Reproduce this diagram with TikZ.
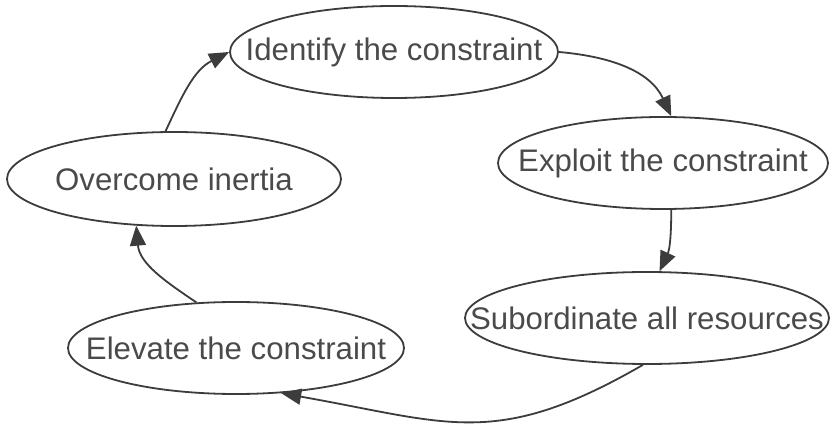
\documentclass[tikz,border=0pt]{standalone}
\usepackage{fontspec}
\setmainfont{Liberation Sans}
\usetikzlibrary{arrows.meta,shapes.geometric}
\definecolor{ink}{HTML}{3C3C3C}
\definecolor{graytext}{HTML}{4A4A4A}
\tikzset{stage/.style={ellipse,draw=ink,line width=0.9pt,inner xsep=-40pt,inner ysep=0pt,
  minimum height=46pt,text=graytext,font=\fontsize{15.6}{18}\selectfont},
  cyclearrow/.style={-{Triangle[length=10pt,width=8pt]},line width=0.9pt,draw=ink}}
\begin{document}
\begin{tikzpicture}[x=0.5pt,y=0.5pt]
\useasboundingbox (0,0) rectangle (830,428);
\node[stage,minimum width=164pt] (identify) at (394,376) {Identify the constraint};
\node[stage,minimum width=165pt] (exploit) at (663,265) {Exploit the constraint};
\node[stage,minimum width=182pt] (subord) at (647,110) {Subordinate all resources};
\node[stage,minimum width=168pt] (elevate) at (236,80) {Elevate the constraint};
\node[stage,minimum width=167pt,minimum height=47pt] (overcome) at (174,249) {Overcome inertia};
\draw[cyclearrow] (overcome.100) to[out=65,in=207] (identify.west);
\draw[cyclearrow] (identify.east) to[out=-5,in=115] (exploit.80);
\draw[cyclearrow] (exploit.-80) to[out=-90,in=65] (subord.75);
\draw[cyclearrow] (subord.-95) to[out=-150,in=-10,looseness=1.2] (elevate.-45);
\draw[cyclearrow] (elevate.131) to[out=146,in=-85] (overcome.231);
\end{tikzpicture}
\end{document}
